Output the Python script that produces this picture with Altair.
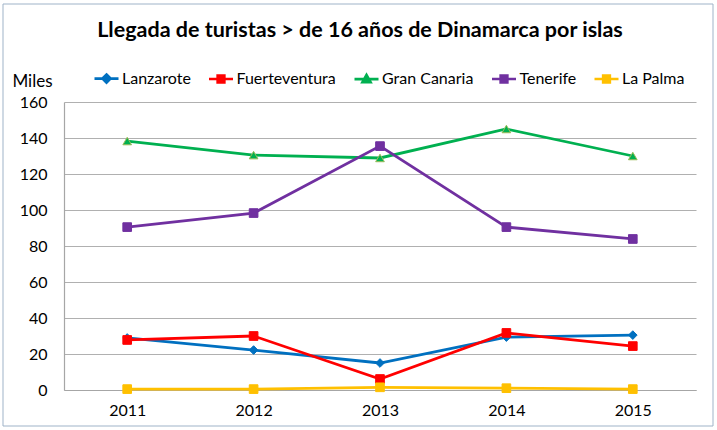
import altair as alt
import pandas as pd

years = ["2011", "2012", "2013", "2014", "2015"]
islands = ["Lanzarote", "Fuerteventura", "Gran Canaria", "Tenerife", "La Palma"]
lanzarote = [28.9, 22.2, 15.0, 29.4, 30.5]
fuerteventura = [27.8, 30.0, 6.1, 31.7, 24.4]
gran_canaria = [138.3, 130.5, 128.9, 145.0, 130.0]
tenerife = [90.5, 98.3, 135.5, 90.5, 83.9]
la_palma = [0.5, 0.5, 1.5, 1.0, 0.5]
y_ticks = [0, 20, 40, 60, 80, 100, 120, 140, 160]

colors = ["#0070C0", "#FF0000", "#00B050", "#7030A0", "#FFC000"]
marker_strokes = ["#0070C0", "#FF0000", "#9BBB59", "#7030A0", "#FFC000"]
shapes = ["diamond", "square", "triangle-up", "square", "square"]
legend_shapes = [
    "M-1,0H1M0,-0.34L0.34,0L0,0.34L-0.34,0Z",
    "M-1,0H1M-0.28,-0.28H0.28V0.28H-0.28Z",
    "M-1,0H1M0,-0.34L0.34,0.26H-0.34Z",
    "M-1,0H1M-0.28,-0.28H0.28V0.28H-0.28Z",
    "M-1,0H1M-0.28,-0.28H0.28V0.28H-0.28Z",
]

series = [lanzarote, fuerteventura, gran_canaria, tenerife, la_palma]
rows = []
for i, (name, vals) in enumerate(zip(islands, series)):
    for y, v in zip(years, vals):
        rows.append({"isla": name, "year": y, "value": v, "ord": i})
df = pd.DataFrame(rows)

FONT = "Lato"

x_enc = alt.X("year:O", title=None,
              scale=alt.Scale(type="point", padding=0.5),
              axis=alt.Axis(labelAngle=0, ticks=False, labelPadding=12,
                            labelFontSize=16, labelFont=FONT, labelColor="#000000",
                            domainColor="#a6a6a6", domainWidth=1.2))
y_enc = alt.Y("value:Q", title="Miles",
              scale=alt.Scale(domain=[0, 160], nice=False),
              axis=alt.Axis(values=y_ticks, tickCount=9, labelOverlap=False,
                            ticks=False, labelPadding=17,
                            labelFontSize=16, labelFont=FONT, labelColor="#000000",
                            grid=True, gridColor="#b0b0b0", gridWidth=1.2,
                            domainColor="#a6a6a6", domainWidth=1.2,
                            titleAngle=0, titleX=-32, titleY=-16,
                            titleAlign="center", titleBaseline="alphabetic",
                            titleFontSize=17, titleFont=FONT, titleFontWeight="normal",
                            titleColor="#000000"))

base = alt.Chart(df)

lines = base.mark_line(strokeWidth=2.8).encode(
    x=x_enc, y=y_enc,
    color=alt.Color("isla:N", scale=alt.Scale(domain=islands, range=colors), legend=None),
    order=alt.Order("ord:Q"),
)

points = base.mark_point(filled=True, size=75, opacity=1, strokeWidth=1).encode(
    x=x_enc, y=y_enc,
    fill=alt.Fill("isla:N", scale=alt.Scale(domain=islands, range=colors), legend=None),
    stroke=alt.Stroke("isla:N", scale=alt.Scale(domain=islands, range=marker_strokes), legend=None),
    shape=alt.Shape("isla:N", scale=alt.Scale(domain=islands, range=shapes), legend=None),
)

legend_layer = base.transform_filter("datum.value < -1000").mark_point(
    filled=True, opacity=1
).encode(
    x=x_enc, y=y_enc,
    fill=alt.Fill("isla:N", scale=alt.Scale(domain=islands, range=colors), legend=None),
    stroke=alt.Stroke("isla:N", scale=alt.Scale(domain=islands, range=colors), legend=None),
    shape=alt.Shape("isla:N", scale=alt.Scale(domain=islands, range=legend_shapes),
                    legend=alt.Legend(title=None, orient="none", direction="horizontal",
                                      legendX=29, legendY=-37, padding=0,
                                      symbolSize=576, symbolStrokeWidth=2.6,
                                      symbolOffset=0, labelOffset=2, columnPadding=12.5,
                                      labelFontSize=16, labelFont=FONT,
                                      labelColor="#000000", labelLimit=300,
                                      columns=5)),
)

border = alt.Chart(pd.DataFrame({"a": [0]})).mark_rect(
    fill="transparent", stroke="#9fb3c8", strokeWidth=1
).encode(x=alt.value(-61), x2=alt.value(649), y=alt.value(-98), y2=alt.value(324))

chart = alt.layer(border, lines, points, legend_layer).resolve_scale(
    fill="independent", stroke="independent", shape="independent"
).properties(
    width=632, height=288,
    padding={"left": 64, "top": 102, "right": 21, "bottom": 40},
    autosize=alt.AutoSizeParams(type="none"),
    background="white",
    title=alt.TitleParams("Llegada de turistas > de 16 años de Dinamarca por islas",
                          fontSize=21.5, fontWeight="bold", font=FONT, color="#000000",
                          anchor="middle", baseline="alphabetic", offset=-55, dx=-20),
).configure_view(stroke="transparent")

chart.save("out.html", embed_options={"renderer": "svg", "actions": False})
